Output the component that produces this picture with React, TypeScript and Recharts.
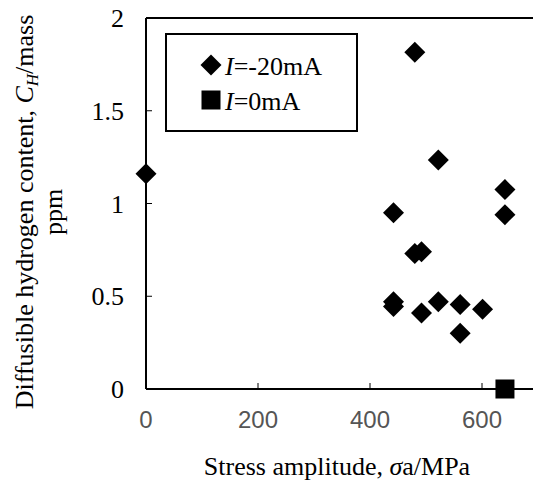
import React from 'react'
import { ScatterChart, Scatter, XAxis, YAxis, Legend, ReferenceLine, Label } from 'recharts'

// I = -20 mA
const stressNeg20 = [0, 442, 442, 442, 480, 480, 492, 492, 522, 522, 561, 561, 601, 641, 641]
const hydrogenNeg20 = [1.16, 0.95, 0.47, 0.445, 1.815, 0.73, 0.74, 0.41, 1.235, 0.47, 0.455, 0.3, 0.43, 1.075, 0.94]

// I = 0 mA
const stressZero = [641]
const hydrogenZero = [0]

const xTicks = [0, 200, 400, 600]
const yTicks = [0, 0.5, 1, 1.5, 2]

const neg20Data = stressNeg20.map((s, i) => ({ stress: s, ch: hydrogenNeg20[i] }))
const zeroData = stressZero.map((s, i) => ({ stress: s, ch: hydrogenZero[i] }))

const serif = 'Times New Roman, Liberation Serif, Tinos, serif'
const sans = 'Arial, Liberation Sans, sans-serif'

const Diamond = (props: any) => {
  const { cx, cy } = props
  const r = 10.5
  return <polygon points={`${cx},${cy - r} ${cx + r},${cy} ${cx},${cy + r} ${cx - r},${cy}`} fill="#000" />
}

const Square = (props: any) => {
  const { cx, cy } = props
  return <rect x={cx - 9.5} y={cy - 9.5} width={19} height={19} fill="#000" />
}

const LegendBox = () => (
  <svg width={193} height={99} style={{ display: 'block' }}>
    <rect x={1} y={1} width={191} height={97} fill="#fff" stroke="#000" strokeWidth={2} />
    <polygon points="46,21.5 56.5,32 46,42.5 35.5,32" fill="#000" />
    <text x={60} y={42} style={{ fontFamily: serif, fontSize: 26 }} fill="#000">
      <tspan fontStyle="italic">I</tspan>=-20mA
    </text>
    <rect x={36.5} y={57.5} width={19} height={19} fill="#000" />
    <text x={60} y={77} style={{ fontFamily: serif, fontSize: 26 }} fill="#000">
      <tspan fontStyle="italic">I</tspan>=0mA
    </text>
  </svg>
)

const YTitle = () => (
  <g style={{ fontFamily: serif, fontSize: 26 }} fill="#000">
    <text transform="translate(33,212) rotate(-90)" textAnchor="middle">
      Diffusible hydrogen content, <tspan fontStyle="italic">C</tspan>
      <tspan fontStyle="italic" style={{ fontSize: 17 }} dy={5}>H</tspan>
      <tspan dy={-5}>/mass</tspan>
    </text>
    <text transform="translate(62,212) rotate(-90)" textAnchor="middle">ppm</text>
  </g>
)

const XTitle = () => (
  <text x={337} y={475} textAnchor="middle" style={{ fontFamily: serif, fontSize: 26 }} fill="#000">
    Stress amplitude, <tspan fontStyle="italic">σ</tspan>a/MPa
  </text>
)

export default function App() {
  return (
    <div style={{ position: 'absolute', left: 0, top: 0, width: 533, height: 483, overflow: 'hidden', background: '#fff' }}>
      <ScatterChart width={545} height={483} margin={{ top: 18, right: 7, left: 0, bottom: 0 }}>
        <XAxis
          type="number"
          dataKey="stress"
          domain={[0, 700]}
          ticks={xTicks}
          height={94}
          stroke="#000"
          strokeWidth={2}
          tickSize={-6}
          tickMargin={28}
          tickLine={{ stroke: '#000', strokeWidth: 1 }}
          tick={{ fontFamily: sans, fontSize: 24, fill: '#555' }}
        >
          <Label content={() => <XTitle />} />
        </XAxis>
        <YAxis
          type="number"
          dataKey="ch"
          domain={[0, 2]}
          ticks={yTicks}
          width={146}
          stroke="#000"
          strokeWidth={2}
          tickSize={-6}
          tickMargin={28}
          tickLine={{ stroke: '#000', strokeWidth: 1 }}
          tick={{ fontFamily: serif, fontSize: 26, fill: '#000' }}
        >
          <Label content={() => <YTitle />} />
        </YAxis>
        <ReferenceLine y={2} stroke="#000" strokeWidth={2} />
        <Legend
          layout="vertical"
          align="center"
          verticalAlign="middle"
          wrapperStyle={{ left: 165, top: 33, width: 193, height: 99 }}
          content={() => <LegendBox />}
        />
        <Scatter name="I=-20mA" data={neg20Data} shape={<Diamond />} isAnimationActive={false} />
        <Scatter name="I=0mA" data={zeroData} shape={<Square />} isAnimationActive={false} />
      </ScatterChart>
    </div>
  )
}
